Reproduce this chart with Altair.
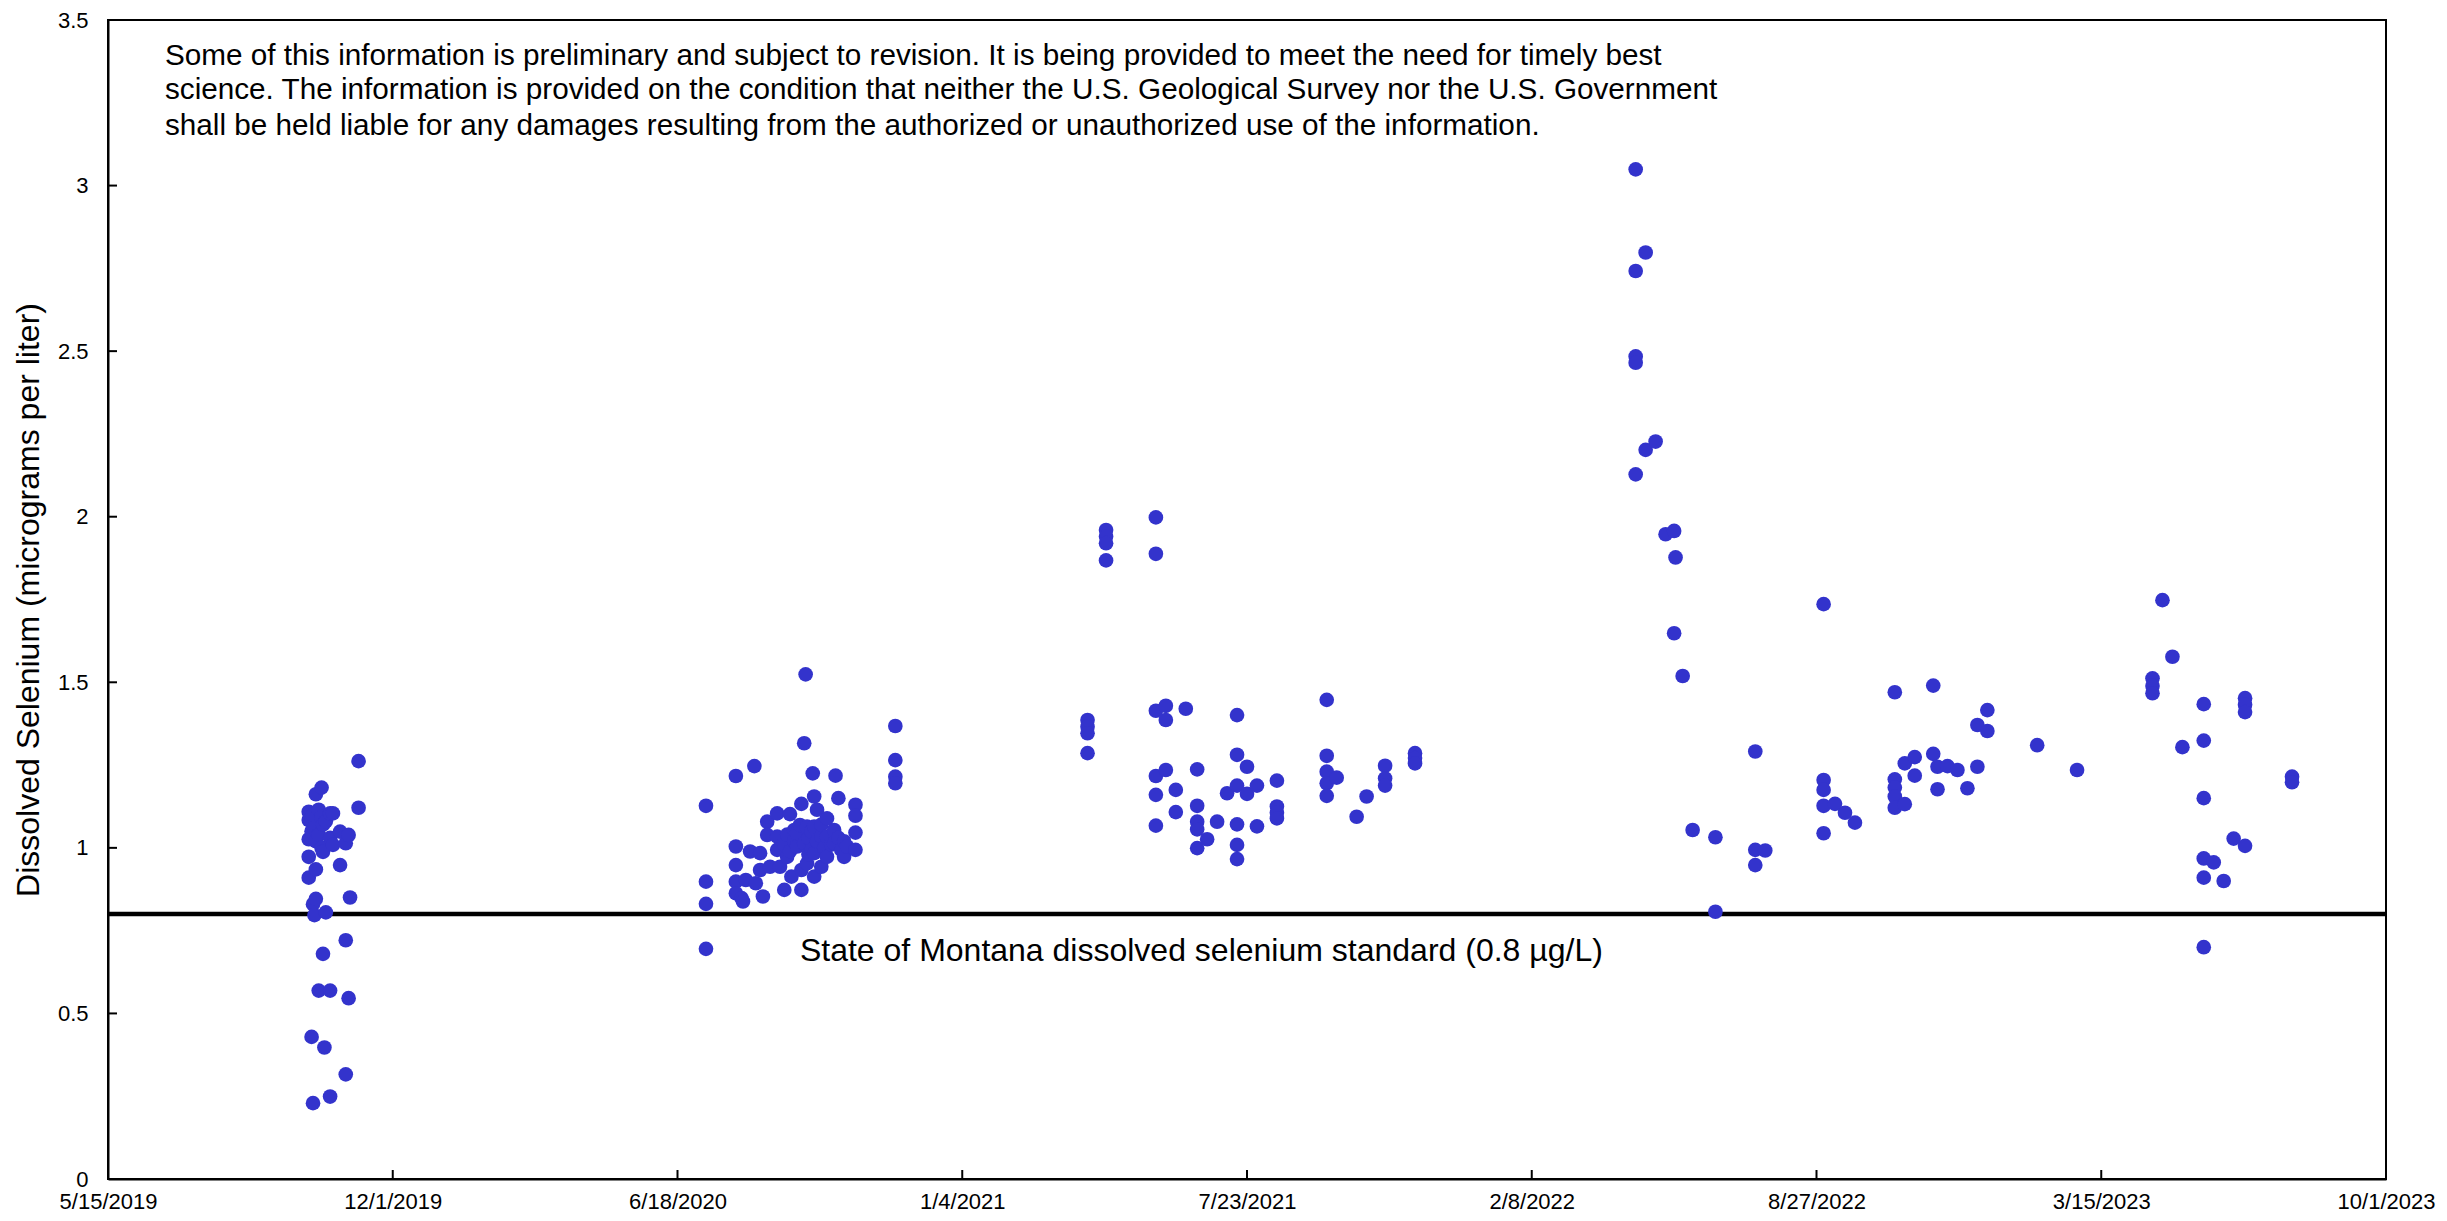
import altair as alt
import pandas as pd

# ---- data (date -> dissolved selenium, ug/L) ----
campaign_2019 = {
    "2019-10-03": [0.973, 0.910, 1.084, 1.026, 1.109],
    "2019-10-05": [0.429, 1.095, 1.050],
    "2019-10-06": [0.229, 0.830, 1.100],
    "2019-10-07": [0.797, 1.060],
    "2019-10-08": [0.935, 0.846, 1.020, 1.162],
    "2019-10-10": [0.569, 1.115, 1.040],
    "2019-10-12": [1.182, 1.094, 1.000],
    "2019-10-13": [0.680, 0.988, 1.070],
    "2019-10-14": [0.397],
    "2019-10-15": [0.805, 1.080],
    "2019-10-18": [0.569, 0.249, 1.104, 1.030],
    "2019-10-20": [1.104, 1.009],
    "2019-10-25": [0.948, 1.049],
    "2019-10-29": [0.721, 0.316, 1.014],
    "2019-10-31": [0.546, 1.039],
    "2019-11-01": [0.850],
    "2019-11-07": [1.262, 1.121],
}

campaign_2020 = {
    "2020-07-08": [1.127, 0.898, 0.831, 0.695],
    "2020-07-29": [1.217, 1.004, 0.948, 0.898, 0.863],
    "2020-08-02": [0.848],
    "2020-08-03": [0.838],
    "2020-08-05": [0.903],
    "2020-08-08": [0.989],
    "2020-08-11": [1.247],
    "2020-08-12": [0.893],
    "2020-08-15": [0.984, 0.933],
    "2020-08-17": [0.853],
    "2020-08-20": [1.079, 1.039],
    "2020-08-22": [0.943],
    "2020-08-27": [1.104, 1.034, 0.994],
    "2020-08-29": [0.943],
    "2020-09-01": [0.873, 1.010],
    "2020-09-03": [0.973, 1.040],
    "2020-09-05": [1.102, 0.990],
    "2020-09-06": [0.913],
    "2020-09-08": [1.054, 1.020],
    "2020-09-10": [1.004, 1.045],
    "2020-09-12": [1.069],
    "2020-09-13": [1.133, 0.873, 0.933],
    "2020-09-15": [1.316, 1.014],
    "2020-09-16": [1.524],
    "2020-09-17": [0.953, 1.064],
    "2020-09-18": [1.030, 0.980],
    "2020-09-20": [0.994, 1.050],
    "2020-09-21": [1.225],
    "2020-09-22": [1.155, 0.913, 1.064, 0.984],
    "2020-09-24": [1.115, 1.020],
    "2020-09-27": [1.034, 0.943, 1.070],
    "2020-09-29": [1.000],
    "2020-10-01": [1.089, 0.973, 1.034],
    "2020-10-04": [1.010],
    "2020-10-06": [1.014, 1.054],
    "2020-10-07": [1.218],
    "2020-10-09": [1.150, 1.030],
    "2020-10-11": [0.994],
    "2020-10-13": [0.973, 1.020],
    "2020-10-15": [1.004],
    "2020-10-21": [1.130, 1.097, 1.046, 0.994],
    "2020-11-18": [1.368, 1.265, 1.215, 1.195],
}

campaign_2021 = {
    "2021-04-02": [1.386, 1.366, 1.346, 1.286],
    "2021-04-15": [1.960, 1.940, 1.920, 1.868],
    "2021-05-20": [1.998, 1.888, 1.414, 1.217, 1.160, 1.067],
    "2021-05-27": [1.429, 1.386, 1.235],
    "2021-06-03": [1.175, 1.108],
    "2021-06-10": [1.420],
    "2021-06-18": [1.237, 1.127, 1.079, 1.056, 0.999],
    "2021-06-25": [1.026],
    "2021-07-02": [1.079],
    "2021-07-09": [1.165],
    "2021-07-16": [1.401, 1.281, 1.188, 1.071, 1.009, 0.966],
    "2021-07-23": [1.245, 1.163],
    "2021-07-30": [1.188, 1.065],
    "2021-08-13": [1.203, 1.125, 1.106, 1.089],
    "2021-09-17": [1.447, 1.278, 1.230, 1.195, 1.157],
    "2021-09-24": [1.212],
    "2021-10-08": [1.094],
    "2021-10-15": [1.155],
    "2021-10-28": [1.248, 1.210, 1.188],
    "2021-11-18": [1.286, 1.271, 1.255],
}

campaign_2022 = {
    "2022-04-22": [3.049, 2.742, 2.484, 2.465, 2.128],
    "2022-04-29": [2.798, 2.202],
    "2022-05-06": [2.227],
    "2022-05-13": [1.947],
    "2022-05-19": [1.957, 1.648],
    "2022-05-20": [1.877],
    "2022-05-25": [1.519],
    "2022-06-01": [1.054],
    "2022-06-17": [1.032, 0.807],
    "2022-07-15": [1.291, 0.994, 0.948],
    "2022-07-22": [0.992],
    "2022-09-01": [1.736, 1.205, 1.175, 1.127, 1.044],
    "2022-09-09": [1.133],
    "2022-09-16": [1.106],
    "2022-09-23": [1.076],
    "2022-10-21": [1.470, 1.207, 1.182, 1.155, 1.121],
    "2022-10-28": [1.132, 1.255],
    "2022-11-04": [1.274, 1.218],
    "2022-11-17": [1.490, 1.284],
    "2022-11-20": [1.245, 1.177],
    "2022-11-27": [1.247],
    "2022-12-04": [1.235],
    "2022-12-11": [1.180],
    "2022-12-18": [1.245, 1.371],
    "2022-12-25": [1.353, 1.416],
}

campaign_2023 = {
    "2023-01-29": [1.310],
    "2023-02-26": [1.235],
    "2023-04-20": [1.512, 1.489, 1.467],
    "2023-04-27": [1.748],
    "2023-05-04": [1.577],
    "2023-05-11": [1.304],
    "2023-05-26": [1.434, 1.324, 1.150, 0.968, 0.910, 0.700],
    "2023-06-02": [0.956],
    "2023-06-09": [0.900],
    "2023-06-16": [1.028],
    "2023-06-24": [1.452, 1.432, 1.410, 1.006],
    "2023-07-27": [1.215, 1.198],
}

x_tick_dates = ["2019-05-15", "2019-12-01", "2020-06-18", "2021-01-04", "2021-07-23",
                "2022-02-08", "2022-08-27", "2023-03-15", "2023-10-01"]
y_tick_values = [0, 0.5, 1, 1.5, 2, 2.5, 3, 3.5]
standard_value = [0.8]
standard_label = "State of Montana dissolved selenium standard (0.8 \u00b5g/L)"
disclaimer_lines = [
    "Some of this information is preliminary and subject to revision. It is being provided to meet the need for timely best",
    "science. The information is provided on the condition that neither the U.S. Geological Survey nor the U.S. Government",
    "shall be held liable for any damages resulting from the authorized or unauthorized use of the information.",
]
disclaimer_y = [3.392, 3.288, 3.179]

# ---- build tables ----
rows = []
for campaign in [campaign_2019, campaign_2020, campaign_2021, campaign_2022, campaign_2023]:
    for d, vals in campaign.items():
        for v in vals:
            rows.append({"date": d + "T00:00:00", "se": v})
df = pd.DataFrame(rows)


def dt(s):
    y, m, d = (int(p) for p in s.split("-"))
    return alt.DateTime(year=y, month=m, date=d)


W, H = 2278, 1159
FONT = "Liberation Sans"

xscale = alt.Scale(domain=[dt(x_tick_dates[0]), dt(x_tick_dates[-1])])
yscale = alt.Scale(domain=[0, 3.5], nice=False, zero=True)

xaxis = alt.Axis(values=[dt(s) for s in x_tick_dates], format="%-m/%-d/%Y",
                 labelFontSize=22, labelPadding=12, ticks=False, grid=False,
                 domainColor="black", domainWidth=2, labelColor="black",
                 labelFlush=False, labelOverlap=False, labelBound=False, labelFont=FONT)
yaxis = alt.Axis(values=y_tick_values, format="~g", labelFontSize=22, labelPadding=20,
                 ticks=False, grid=False, domainColor="black", domainWidth=2,
                 labelColor="black", labelFont=FONT, labelOverlap=False,
                 title="Dissolved Selenium (micrograms per liter)", titleFontSize=32,
                 titleFontWeight="normal", titleFont=FONT, titleColor="black",
                 titleX=-80, titleY=H / 2, titleAlign="center", titleBaseline="middle")

X = lambda f: alt.X(f, type="temporal", scale=xscale, axis=xaxis, title=None)
Y = lambda f: alt.Y(f, type="quantitative", scale=yscale, axis=yaxis,
                    title="Dissolved Selenium (micrograms per liter)")

points = alt.Chart(df).mark_circle(size=215, color="#3333CC", opacity=1).encode(
    x=X("date"), y=Y("se"))

std_df = pd.DataFrame({"se": standard_value})
std_rule = alt.Chart(std_df).mark_rule(color="black", strokeWidth=4.5).encode(y=Y("se"))

std_text_df = pd.DataFrame({"date": ["2020-09-12T00:00:00"], "se": [0.689], "t": [standard_label]})
std_text = alt.Chart(std_text_df).mark_text(align="left", baseline="middle", fontSize=32,
                                            font=FONT, color="black").encode(
    x=X("date"), y=Y("se"), text="t:N")

disc_df = pd.DataFrame({"date": ["2019-06-24T00:00:00"] * 3, "se": disclaimer_y, "t": disclaimer_lines})
disc = alt.Chart(disc_df).mark_text(align="left", baseline="middle", fontSize=29.7,
                                    font=FONT, color="black").encode(
    x=X("date"), y=Y("se"), text="t:N")

xt_df = pd.DataFrame({"date": [s + "T00:00:00" for s in x_tick_dates]})
xticks = alt.Chart(xt_df).mark_rule(color="black", strokeWidth=2).encode(
    x=X("date"), y=alt.value(H), y2=alt.value(H - 9))

yt_df = pd.DataFrame({"se": y_tick_values})
yticks = alt.Chart(yt_df).mark_rule(color="black", strokeWidth=2).encode(
    y=Y("se"), x=alt.value(0), x2=alt.value(9))

chart = alt.layer(std_rule, points, std_text, disc, xticks, yticks).properties(
    width=W, height=H,
    padding={"left": 100, "top": 12, "right": 50, "bottom": 34},
    autosize=alt.AutoSizeParams(type="none"),
    background="white",
).configure(font=FONT).configure_view(stroke="black", strokeWidth=2)

chart.save("out.html", embed_options={"renderer": "svg", "actions": False})
